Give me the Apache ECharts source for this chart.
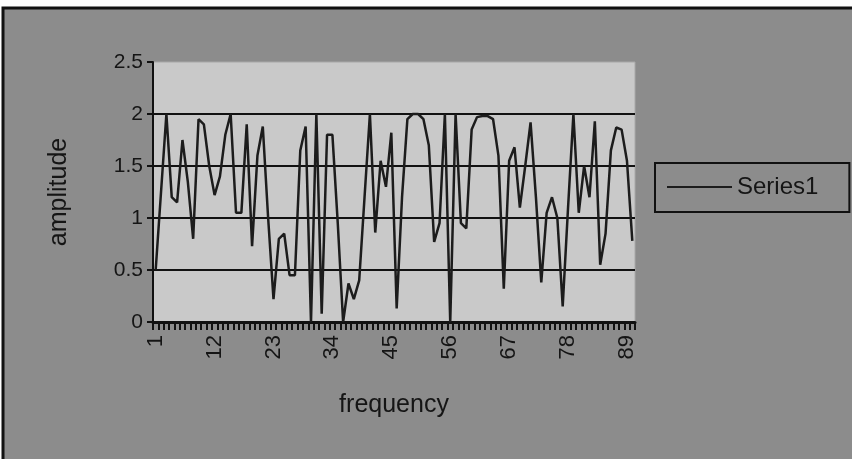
<!DOCTYPE html>
<html>
<head>
<meta charset="utf-8">
<script src="https://cdn.jsdelivr.net/npm/echarts@6/dist/echarts.min.js"></script>
<style>
  html, body { margin: 0; padding: 0; background: #fff; }
  #chart { width: 852px; height: 459px; }
</style>
</head>
<body>
<div id="chart"></div>
<script>
// x categories 1..90, only every 11th one is labelled
const categories = Array.from({ length: 90 }, (_, i) => String(i + 1));
const yTicks = [0, 0.5, 1, 1.5, 2, 2.5];
const series1 = [
  0.5, 1.25, 2.0, 1.2, 1.15, 1.75, 1.35, 0.8, 1.95, 1.9,
  1.5, 1.22, 1.4, 1.8, 2.0, 1.05, 1.05, 1.9, 0.73, 1.6,
  1.88, 1.0, 0.22, 0.8, 0.85, 0.45, 0.45, 1.65, 1.88, 0.0,
  2.0, 0.08, 1.8, 1.8, 0.95, 0.0, 0.37, 0.22, 0.4, 1.2,
  2.0, 0.86, 1.55, 1.3, 1.82, 0.13, 1.2, 1.95, 2.0, 2.0,
  1.95, 1.7, 0.77, 0.95, 2.0, 0.0, 2.0, 0.95, 0.9, 1.85,
  1.97, 1.98, 1.98, 1.95, 1.6, 0.32, 1.55, 1.68, 1.1, 1.5,
  1.92, 1.2, 0.38, 1.05, 1.2, 1.0, 0.15, 1.1, 2.0, 1.05,
  1.5, 1.2, 1.93, 0.55, 0.85, 1.65, 1.87, 1.85, 1.55, 0.78
];

const font = 'Liberation Sans, Arial, sans-serif';
const chart = echarts.init(document.getElementById('chart'));

chart.setOption({
  backgroundColor: '#fff',
  animation: false,
  graphic: [{
    type: 'rect',
    z: -10,
    shape: { x: 3, y: 8, width: 870, height: 470 },
    style: { fill: '#8c8c8c', stroke: '#111', lineWidth: 3 }
  }],
  grid: {
    left: 153, top: 62, width: 482, height: 260,
    show: true,
    backgroundColor: '#c9c9c9',
    borderColor: '#a8a8a8',
    borderWidth: 1
  },
  legend: {
    left: 655, top: 163,
    orient: 'vertical',
    padding: [12, 31, 13, 12],
    borderColor: '#111',
    borderWidth: 2,
    itemWidth: 65,
    itemHeight: 2,
    textStyle: { fontFamily: font, fontSize: 24, color: '#151515' },
    data: [{ name: 'Series1', icon: 'rect' }]
  },
  xAxis: {
    type: 'category',
    data: categories,
    boundaryGap: true,
    name: 'frequency',
    nameLocation: 'middle',
    nameGap: 71,
    nameTextStyle: { fontFamily: font, fontSize: 25, color: '#151515' },
    axisLine: { lineStyle: { color: '#111', width: 3 } },
    axisTick: { show: true, interval: 0, length: 8, lineStyle: { color: '#111', width: 2 } },
    axisLabel: {
      interval: 10,
      rotate: 90,
      margin: 13,
      fontFamily: font, fontSize: 22, color: '#151515'
    },
    splitLine: { show: false }
  },
  yAxis: {
    type: 'value',
    min: yTicks[0],
    max: yTicks[yTicks.length - 1],
    interval: 0.5,
    name: 'amplitude',
    nameLocation: 'middle',
    nameRotate: 90,
    nameGap: 81,
    nameTextStyle: { fontFamily: font, fontSize: 25, color: '#151515' },
    axisLine: { show: true, lineStyle: { color: '#111', width: 2 } },
    axisTick: { show: true, length: 6, lineStyle: { color: '#111', width: 2 } },
    axisLabel: { margin: 10, fontFamily: font, fontSize: 21, color: '#151515' },
    splitLine: {
      show: true,
      lineStyle: {
        // no black line on the top edge (2.5)
        color: ['#111', '#111', '#111', '#111', '#111', 'rgba(0,0,0,0)'],
        width: 2
      }
    }
  },
  series: [{
    name: 'Series1',
    type: 'line',
    data: series1,
    symbol: 'none',
    lineStyle: { color: '#1c1c1c', width: 2.5 },
    itemStyle: { color: '#1c1c1c' }
  }]
});
</script>
</body>
</html>
